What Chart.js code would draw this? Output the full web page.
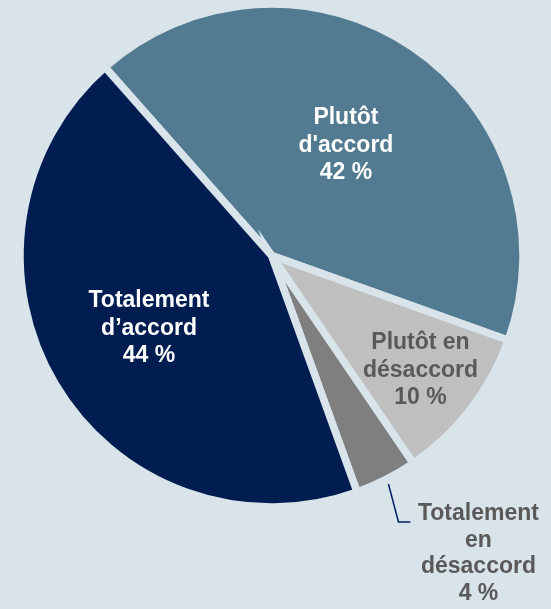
<!DOCTYPE html>
<html>
<head>
<meta charset="utf-8">
<script src="https://cdn.jsdelivr.net/npm/chart.js@4.4.1/dist/chart.umd.min.js"></script>
<style>
  html, body { margin: 0; padding: 0; background: #d9e3ea; }
  #wrap { width: 551px; height: 609px; position: relative; }
</style>
</head>
<body>
<div id="wrap"><canvas id="pie"></canvas></div>
<script>
// Data
const categories = ["Plutôt d'accord", "Plutôt en désaccord", "Totalement en désaccord", "Totalement d’accord"];
const shares = [42, 10, 4, 44];
const labelLines = [["Plutôt", "d'accord"], ["Plutôt en", "désaccord"], ["Totalement", "en", "désaccord"], ["Totalement", "d’accord"]];

const bgColor = "#d9e3ea";
const sliceColors = ["#527a91", "#bfbfbf", "#7f7f7f", "#001d52"];
const textColors = ["#ffffff", "#595959", "#595959", "#ffffff"];
// how far out from the centre each label sits (share of radius), null = outside with a leader
const labelRadius = [0.536, 0.76, null, 0.575];
const borderW = 7.5;

// draws the slice labels from the arcs
const sliceLabels = {
    id: "sliceLabels",
    afterDatasetsDraw(chart) {
        const ctx = chart.ctx;
        const arcs = chart.getDatasetMeta(0).data;
        ctx.save();
        ctx.font = "bold 23px 'Liberation Sans', Arial, sans-serif";
        ctx.textAlign = "center";
        ctx.textBaseline = "middle";
        arcs.forEach((arc, i) => {
            const p = arc.getProps(["x", "y", "startAngle", "endAngle", "outerRadius"], true);
            const mid = (p.startAngle + p.endAngle) / 2;
            const r = p.outerRadius - borderW / 2;
            const lines = labelLines[i].concat([shares[i] + " %"]);
            ctx.fillStyle = textColors[i];
            if (labelRadius[i] !== null) {
                const cx = p.x + Math.cos(mid) * r * labelRadius[i];
                const cy = p.y + Math.sin(mid) * r * labelRadius[i];
                const lh = 27.5;
                const top = cy - (lines.length - 1) * lh / 2;
                lines.forEach((t, k) => ctx.fillText(t, cx, top + k * lh));
            } else {
                // leader line
                const sx = p.x + Math.cos(mid) * (r + 9);
                const sy = p.y + Math.sin(mid) * (r + 9);
                const ex = sx + 10;
                const ey = sy + 38;
                ctx.strokeStyle = "#002060";
                ctx.lineWidth = 1.5;
                ctx.beginPath();
                ctx.moveTo(sx, sy);
                ctx.lineTo(ex, ey);
                ctx.lineTo(ex + 12, ey);
                ctx.stroke();
                const lh = 26.5;
                lines.forEach((t, k) => ctx.fillText(t, ex + 80, ey - 8 + k * lh));
            }
        });
        ctx.restore();
    }
};

new Chart(document.getElementById("pie"), {
    type: "pie",
    data: {
        labels: categories,
        datasets: [{
            data: shares,
            backgroundColor: sliceColors,
            borderColor: bgColor,
            borderWidth: borderW,
            borderJoinStyle: "miter",
            hoverOffset: 0
        }]
    },
    options: {
        responsive: true,
        maintainAspectRatio: false,
        animation: false,
        events: [],
        rotation: -41.5,
        radius: 251.5,
        layout: { padding: { left: 0, right: 8, top: 0, bottom: 98 } },
        plugins: {
            legend: { display: false },
            tooltip: { enabled: false }
        }
    },
    plugins: [sliceLabels]
});
</script>
</body>
</html>
